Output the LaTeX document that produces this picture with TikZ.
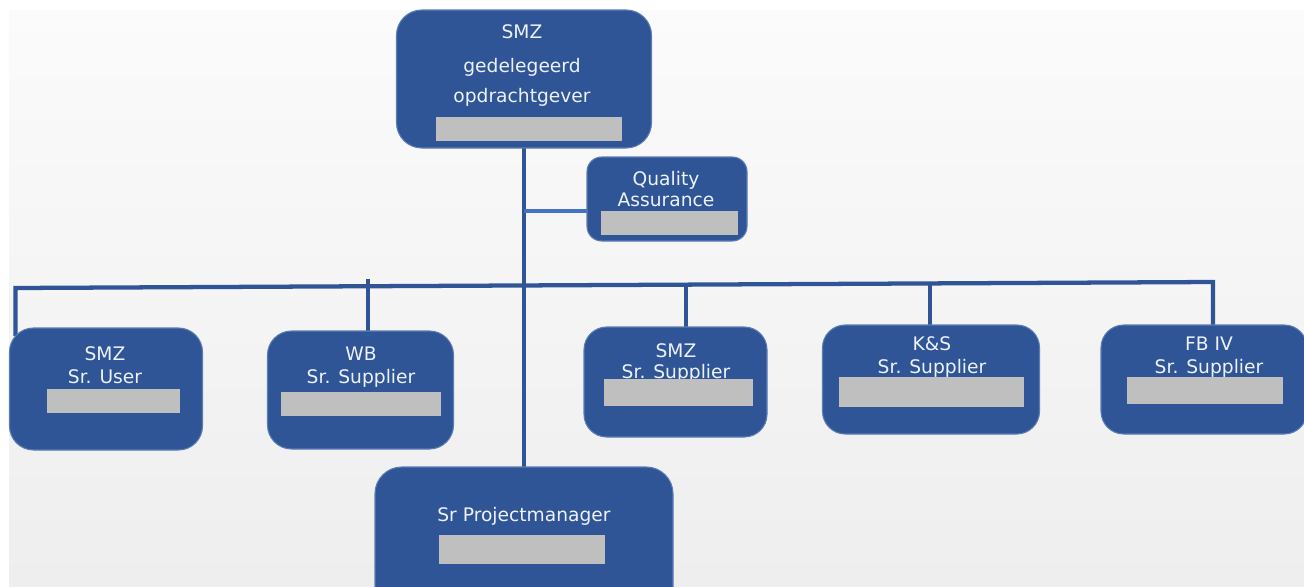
\documentclass[tikz,border=0pt]{standalone}
\usepackage{fontspec}
\setmainfont{DejaVu Sans}
\definecolor{boxblue}{HTML}{2F5597}
\definecolor{boxedge}{HTML}{5A7DB5}
\definecolor{linkblue}{HTML}{2F5597}
\definecolor{qalink}{HTML}{4472C4}
\definecolor{grayfill}{HTML}{BFBFBF}
\definecolor{txtcol}{HTML}{EEF2F8}
\definecolor{bgtop}{HTML}{FBFBFB}
\definecolor{bgbot}{HTML}{EEEEEE}
\pgfdeclarelayer{bglayer}
\pgfsetlayers{bglayer,main}
\begin{document}
\begin{tikzpicture}[x=0.75pt,y=-0.75pt,
  sz/.style 2 args={minimum width={#1*0.75pt}, minimum height={#2*0.75pt}},
  orgbox/.style={draw=boxedge, line width=0.8pt, fill=boxblue, inner sep=0pt, outer sep=0pt},
  grayrect/.style={fill=grayfill, draw=none, inner sep=0pt, outer sep=0pt},
  lbl/.style={text=txtcol, anchor=base, inner sep=0pt, font=\fontsize{14}{16}\selectfont},
  link/.style={draw=linkblue, line width=3.2pt},
  qal/.style={draw=qalink, line width=2.4pt}]
\useasboundingbox (0,0) rectangle (1304,586);
\clip (0,0) rectangle (1304,586);

% boxes
\path
  node[orgbox, sz={255}{138}, rounded corners=19pt] (top) at (524,79) {}
  node[orgbox, sz={160}{84}, rounded corners=11pt] (qa) at (667,199) {}
  node[orgbox, sz={193}{122}, rounded corners=18pt] (sul) at (106,389) {}
  node[orgbox, sz={186}{118}, rounded corners=18pt] (wb) at (360.5,390) {}
  node[orgbox, sz={183}{110}, rounded corners=17pt] (ssu) at (675.5,382) {}
  node[orgbox, sz={217}{109}, rounded corners=17pt] (ks) at (931,379.5) {}
  node[orgbox, sz={206}{109}, rounded corners=17pt] (fb) at (1204,379.5) {}
  node[orgbox, sz={298}{150}, rounded corners=20pt] (pm) at (524,542) {};

% connector coordinates
\coordinate (bl) at (15.5,288);
\coordinate (br) at (1213,282);
\coordinate (sulin) at (15.5,336);
\coordinate (dwb) at (368,279);
\coordinate (dssu) at (686,284.6);
\coordinate (dks) at (930,283.4);
\coordinate (qaj) at (524,211);

\begin{pgfonlayer}{bglayer}
\fill[white] (0,0) rectangle (1304,586);
\shade[top color=bgtop, bottom color=bgbot] (9,10) rectangle (1304,586);
\draw[link] (top.south) -- (pm.north);
\draw[qal] (qaj) -- (qaj -| qa.west);
\draw[link, line join=miter] (sulin) -- (bl) -- (br) -- (br |- fb.north);
\draw[link] (dwb) -- (dwb |- wb.north);
\draw[link] (dssu) -- (dssu |- ssu.north);
\draw[link] (dks) -- (dks |- ks.north);
\end{pgfonlayer}

% texts
\node[lbl] (t1) at (522,38) {SMZ};
\node[lbl] (t2) at (522,72) {gedelegeerd};
\node[lbl] (t3) at (522,102) {opdrachtgever};
\node[lbl] (q1) at (666,185) {Quality};
\node[lbl] (q2) at (666,206) {Assurance};
\node[lbl] (s1) at (105,360) {SMZ};
\node[lbl] (s2) at (105,383) {Sr. User};
\node[lbl] (w1) at (361,360) {WB};
\node[lbl] (w2) at (361,383) {Sr. Supplier};
\node[lbl] (m1) at (676,357) {SMZ};
\node[lbl] (m2) at (676,378) {Sr. Supplier};
\node[lbl] (k1) at (932,350) {K\&S};
\node[lbl] (k2) at (932,373) {Sr. Supplier};
\node[lbl] (f1) at (1209,350) {FB IV};
\node[lbl] (f2) at (1209,373) {Sr. Supplier};
\node[lbl] (p1) at (524,521) {Sr Projectmanager};

% gray placeholders
\node[grayrect, sz={186}{24}] (g1) at (529,129) {};
\node[grayrect, sz={137}{24}] (g2) at (669.5,223) {};
\node[grayrect, sz={133}{24}] (g3) at (113.5,401) {};
\node[grayrect, sz={160}{24}] (g4) at (361,404) {};
\node[grayrect, sz={149}{27}] (g5) at (678.5,392.5) {};
\node[grayrect, sz={185}{30}] (g6) at (931.5,392) {};
\node[grayrect, sz={156}{27}] (g7) at (1205,390.5) {};
\node[grayrect, sz={166}{29}] (g8) at (522,549.5) {};
\end{tikzpicture}
\end{document}
